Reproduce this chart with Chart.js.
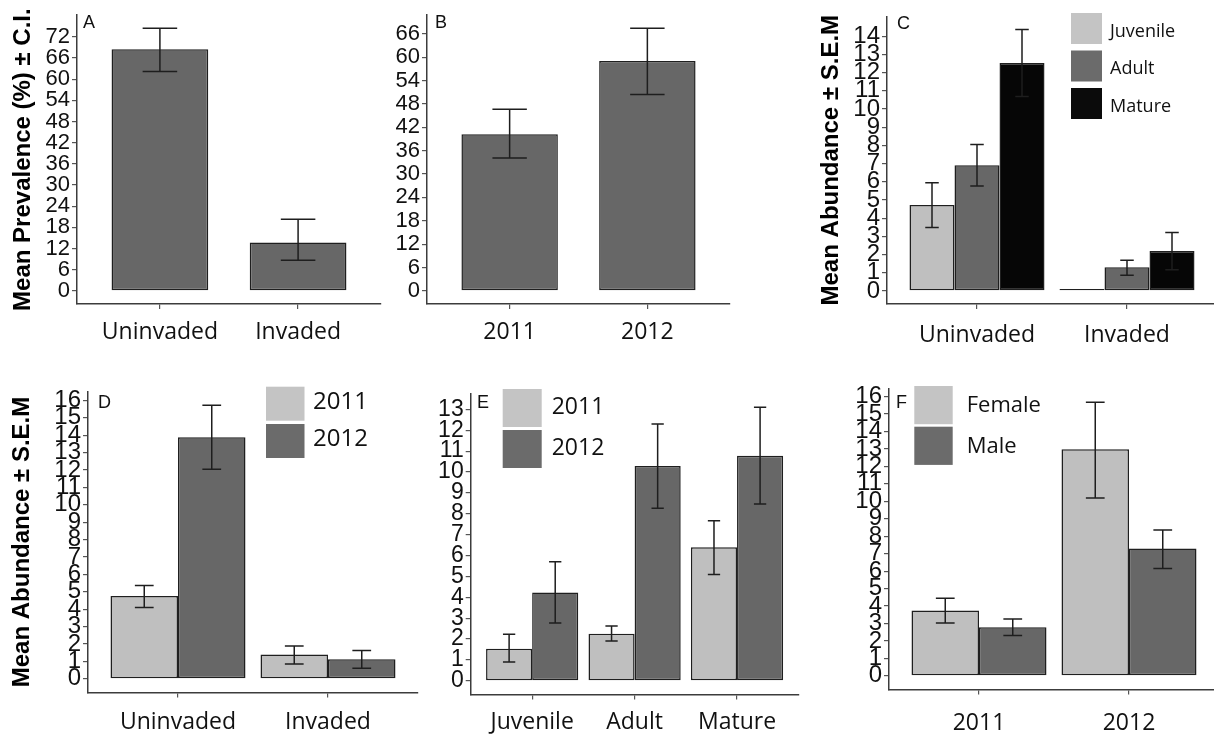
<!DOCTYPE html>
<html>
<head>
<meta charset="utf-8">
<script src="https://cdn.jsdelivr.net/npm/chart.js@4.4.1/dist/chart.umd.min.js"></script>
<style>
  html, body { margin: 0; padding: 0; background: #fff; overflow: hidden; width: 1214px; height: 735px; }
  canvas { position: absolute; }
</style>
</head>
<body>
<canvas id="panelA" width="390" height="350" style="left:0px;top:0px"></canvas>
<canvas id="panelB" width="400" height="350" style="left:385px;top:0px"></canvas>
<canvas id="panelC" width="430" height="350" style="left:790px;top:0px"></canvas>
<canvas id="panelD" width="430" height="385" style="left:0px;top:350px"></canvas>
<canvas id="panelE" width="390" height="385" style="left:425px;top:350px"></canvas>
<canvas id="panelF" width="410" height="385" style="left:810px;top:350px"></canvas>
<script>
// ---- A: mean prevalence (%) by site, with confidence interval ----
const siteLabels = ['Uninvaded', 'Invaded'];
const prevalenceBySite = [68.5, 13.7];
const prevalenceBySiteLow = [62.2, 8.7];
const prevalenceBySiteHigh = [74.4, 20.3];
const prevalenceSiteTicks = [0, 6, 12, 18, 24, 30, 36, 42, 48, 54, 60, 66, 72];

// ---- B: mean prevalence (%) by year ----
const yearLabels = ['2011', '2012'];
const prevalenceByYear = [40.2, 59.0];
const prevalenceByYearLow = [34.1, 50.4];
const prevalenceByYearHigh = [46.6, 67.4];
const prevalenceYearTicks = [0, 6, 12, 18, 24, 30, 36, 42, 48, 54, 60, 66];

// ---- C: mean abundance by life stage and site (± S.E.M) ----
const stageLabels = ['Juvenile', 'Adult', 'Mature'];
const juvenileBySite = [4.72, 0.1];
const juvenileBySiteLow = [3.49, null];
const juvenileBySiteHigh = [5.95, null];
const adultBySite = [6.91, 1.30];
const adultBySiteLow = [5.77, 0.86];
const adultBySiteHigh = [8.05, 1.68];
const matureBySite = [12.53, 2.19];
const matureBySiteLow = [10.69, 1.17];
const matureBySiteHigh = [14.37, 3.21];
const stageSiteTicks = [0, 1, 2, 3, 4, 5, 6, 7, 8, 9, 10, 11, 12, 13, 14];

// ---- D: mean abundance by site and year ----
const siteYear2011 = [4.76, 1.39];
const siteYear2011Low = [4.10, 0.85];
const siteYear2011High = [5.36, 1.89];
const siteYear2012 = [13.88, 1.12];
const siteYear2012Low = [12.04, 0.60];
const siteYear2012High = [15.72, 1.62];
const siteYearTicks = [0, 1, 2, 3, 4, 5, 6, 7, 8, 9, 10, 11, 12, 13, 14, 15, 16];

// ---- E: mean abundance by life stage and year ----
const stageYear2011 = [1.54, 2.26, 6.40];
const stageYear2011Low = [0.90, 1.91, 5.09];
const stageYear2011High = [2.23, 2.63, 7.66];
const stageYear2012 = [4.23, 10.29, 10.78];
const stageYear2012Low = [2.77, 8.27, 8.47];
const stageYear2012High = [5.70, 12.30, 13.10];
const stageYearTicks = [0, 1, 2, 3, 4, 5, 6, 7, 8, 9, 10, 11, 12, 13];

// ---- F: mean abundance by year and sex ----
const sexLabels = ['Female', 'Male'];
const femaleByYear = [3.74, 12.98];
const femaleByYearLow = [3.02, 10.19];
const femaleByYearHigh = [4.45, 15.68];
const maleByYear = [2.79, 7.29];
const maleByYearLow = [2.31, 6.15];
const maleByYearHigh = [3.26, 8.36];
const yearSexTicks = [0, 1, 2, 3, 4, 5, 6, 7, 8, 9, 10, 11, 12, 13, 14, 15, 16];

// ---- shared look ----
const LIGHT = '#bfbfbf', DARK = '#676767', BLACK = '#060606';
const KEY_LIGHT = '#c4c4c4', KEY_DARK = '#6b6b6b', KEY_BLACK = '#0b0b0b';
const OUTLINE = '#1f1f1f';
const AXIS = '#3c3c3c';
const SANS = "'Liberation Sans', Arial, sans-serif";
const LABEL_SANS = "'Open Sans', 'Noto Sans', sans-serif";

Chart.defaults.font.family = SANS;

// vertical error bars with caps, taken from errLow / errHigh on each dataset
const errorBarPlugin = {
  id: 'errorBars',
  afterDatasetsDraw(chart, args, o) {
    const { ctx, scales: { x, y } } = chart;
    const half = o.cap * (x.getPixelForValue(2) - x.getPixelForValue(1)) / 2;
    ctx.save();
    ctx.strokeStyle = o.color;
    ctx.lineWidth = o.width;
    chart.data.datasets.forEach((ds, i) => {
      chart.getDatasetMeta(i).data.forEach((bar, j) => {
        const lo = ds.errLow[j], hi = ds.errHigh[j];
        if (lo == null || hi == null) return;
        const cx = bar.x;
        const yl = y.getPixelForValue(lo), yh = y.getPixelForValue(hi);
        ctx.beginPath();
        ctx.moveTo(cx, yh); ctx.lineTo(cx, yl);
        ctx.moveTo(cx - half, yh); ctx.lineTo(cx + half, yh);
        ctx.moveTo(cx - half, yl); ctx.lineTo(cx + half, yl);
        ctx.stroke();
      });
    });
    ctx.restore();
  }
};

// stacked key boxes with labels, drawn inside the plot
const keyPlugin = {
  id: 'keyBoxes',
  afterDraw(chart, args, o) {
    if (!o.show) return;
    const ctx = chart.ctx;
    ctx.save();
    chart.data.datasets.forEach((ds, i) => {
      const top = o.y + i * o.pitch;
      ctx.fillStyle = ds.keyColor;
      ctx.fillRect(o.x, top, o.w, o.h);
      ctx.fillStyle = '#111';
      ctx.font = o.font;
      ctx.textAlign = 'left';
      ctx.textBaseline = 'middle';
      ctx.fillText(ds.label, o.textX, top + o.h / 2 + o.dy);
    });
    ctx.restore();
  }
};

// panel letter in the top-left corner
const tagPlugin = {
  id: 'panelTag',
  afterDraw(chart, args, o) {
    const ctx = chart.ctx;
    ctx.save();
    ctx.fillStyle = '#111';
    ctx.font = '18px ' + SANS;
    ctx.textAlign = 'left';
    ctx.textBaseline = 'middle';
    ctx.fillText(o.text, o.x, o.y);
    ctx.restore();
  }
};

function panel(id, cfg) {
  const cats = cfg.categories;
  const top = Math.max(...cfg.series.flatMap(s => s.high.filter(v => v != null)));
  const expand = top * 0.05;
  new Chart(document.getElementById(id), {
    type: 'bar',
    data: {
      datasets: cfg.series.map(s => ({
        label: s.label,
        data: s.values.map((v, i) => ({ x: i + 1, y: v })),
        errLow: s.low,
        errHigh: s.high,
        keyColor: s.key,
        backgroundColor: s.color,
        borderColor: OUTLINE,
        borderWidth: 1.5,
        borderSkipped: false,
        categoryPercentage: cfg.groupWidth,
        barPercentage: 1
      }))
    },
    options: {
      responsive: false,
      animation: false,
      events: [],
      layout: { padding: { top: cfg.padTop, right: cfg.padRight, left: 0, bottom: 0 } },
      plugins: {
        legend: { display: false },
        tooltip: { enabled: false },
        errorBars: { cap: cfg.cap, color: '#1e1e1e', width: 1.5 },
        keyBoxes: cfg.key || { show: false },
        panelTag: cfg.tag
      },
      scales: {
        x: {
          type: 'linear',
          min: 0.4,
          max: cats.length + 0.6,
          offset: false,
          afterBuildTicks: ax => { ax.ticks = cats.map((c, i) => ({ value: i + 1 })); },
          afterFit: s => { s.height = cfg.xHeight; },
          ticks: {
            autoSkip: false,
            maxRotation: 0,
            padding: cfg.xPad,
            color: '#111',
            font: { family: LABEL_SANS, size: 23 },
            callback: (v, i) => cats[i]
          },
          grid: { drawOnChartArea: false, offset: false, tickLength: 5, color: '#555', lineWidth: 1.2 },
          border: { display: true, color: AXIS, width: 1.5 }
        },
        y: {
          min: -expand,
          max: top + expand,
          afterBuildTicks: ax => { ax.ticks = cfg.yTicks.map(v => ({ value: v })); },
          afterFit: s => { s.width = cfg.yWidth; },
          ticks: {
            autoSkip: false,
            padding: 2,
            color: '#111',
            font: { family: SANS, size: cfg.yFont },
            callback: v => String(v)
          },
          grid: { drawOnChartArea: false, tickLength: 5, color: '#555', lineWidth: 1.2 },
          border: { display: true, color: AXIS, width: 1.5 },
          title: cfg.yTitle ? {
            display: true,
            text: cfg.yTitle,
            color: '#000',
            font: { family: SANS, size: 24, weight: 'bold' },
            padding: { top: cfg.titlePad, bottom: 0 }
          } : { display: false }
        }
      }
    },
    plugins: [errorBarPlugin, keyPlugin, tagPlugin]
  });
}

panel('panelA', {
  categories: siteLabels,
  series: [{ label: 'Prevalence', values: prevalenceBySite, low: prevalenceBySiteLow, high: prevalenceBySiteHigh, color: DARK, key: KEY_DARK }],
  yTicks: prevalenceSiteTicks, yTitle: 'Mean Prevalence (%) ± C.I.', titlePad: 9,
  groupWidth: 0.7, cap: 0.25, yWidth: 77, xHeight: 46, padTop: 7, padRight: 9, xPad: 10, yFont: 22,
  tag: { text: 'A', x: 83, y: 23 }
});

panel('panelB', {
  categories: yearLabels,
  series: [{ label: 'Prevalence', values: prevalenceByYear, low: prevalenceByYearLow, high: prevalenceByYearHigh, color: DARK, key: KEY_DARK }],
  yTicks: prevalenceYearTicks,
  groupWidth: 0.7, cap: 0.25, yWidth: 42, xHeight: 46, padTop: 9, padRight: 55, xPad: 10, yFont: 22,
  tag: { text: 'B', x: 50, y: 23 }
});

panel('panelC', {
  categories: siteLabels,
  series: [
    { label: stageLabels[0], values: juvenileBySite, low: juvenileBySiteLow, high: juvenileBySiteHigh, color: LIGHT, key: KEY_LIGHT },
    { label: stageLabels[1], values: adultBySite, low: adultBySiteLow, high: adultBySiteHigh, color: DARK, key: KEY_DARK },
    { label: stageLabels[2], values: matureBySite, low: matureBySiteLow, high: matureBySiteHigh, color: BLACK, key: KEY_BLACK }
  ],
  yTicks: stageSiteTicks, yTitle: 'Mean Abundance ± S.E.M', titlePad: 27,
  groupWidth: 0.9, cap: 0.09, yWidth: 97, xHeight: 46, padTop: 4, padRight: 3, xPad: 13, yFont: 24,
  key: { show: true, x: 281, y: 13, w: 31, h: 31, pitch: 37.5, textX: 320, dy: 3, font: '18px ' + LABEL_SANS },
  tag: { text: 'C', x: 107, y: 24 }
});

panel('panelD', {
  categories: siteLabels,
  series: [
    { label: yearLabels[0], values: siteYear2011, low: siteYear2011Low, high: siteYear2011High, color: LIGHT, key: KEY_LIGHT },
    { label: yearLabels[1], values: siteYear2012, low: siteYear2012Low, high: siteYear2012High, color: DARK, key: KEY_DARK }
  ],
  yTicks: siteYearTicks, yTitle: 'Mean Abundance ± S.E.M', titlePad: 8,
  groupWidth: 0.9, cap: 0.125, yWidth: 88, xHeight: 42.5, padTop: 41.5, padRight: 12, xPad: 11, yFont: 24,
  key: { show: true, x: 266, y: 36.7, w: 38.5, h: 34, pitch: 37.3, textX: 313, dy: -2, font: '24px ' + LABEL_SANS },
  tag: { text: 'D', x: 98, y: 53 }
});

panel('panelE', {
  categories: stageLabels,
  series: [
    { label: yearLabels[0], values: stageYear2011, low: stageYear2011Low, high: stageYear2011High, color: LIGHT, key: KEY_LIGHT },
    { label: yearLabels[1], values: stageYear2012, low: stageYear2012Low, high: stageYear2012High, color: DARK, key: KEY_DARK }
  ],
  yTicks: stageYearTicks,
  groupWidth: 0.9, cap: 0.12, yWidth: 45.7, xHeight: 40.5, padTop: 43.6, padRight: 16.5, xPad: 9, yFont: 23,
  key: { show: true, x: 77.7, y: 39, w: 39, h: 38, pitch: 41, textX: 126.7, dy: -1, font: '23px ' + LABEL_SANS },
  tag: { text: 'E', x: 52, y: 53 }
});

panel('panelF', {
  categories: yearLabels,
  series: [
    { label: sexLabels[0], values: femaleByYear, low: femaleByYearLow, high: femaleByYearHigh, color: LIGHT, key: KEY_LIGHT },
    { label: sexLabels[1], values: maleByYear, low: maleByYearLow, high: maleByYearHigh, color: DARK, key: KEY_DARK }
  ],
  yTicks: yearSexTicks,
  groupWidth: 0.9, cap: 0.125, yWidth: 79, xHeight: 45.5, padTop: 38.5, padRight: 1, xPad: 15, yFont: 24,
  key: { show: true, x: 104.3, y: 36, w: 38.4, h: 38.2, pitch: 40.7, textX: 156.7, dy: 1, font: '22px ' + LABEL_SANS },
  tag: { text: 'F', x: 86, y: 53 }
});
</script>
</body>
</html>
